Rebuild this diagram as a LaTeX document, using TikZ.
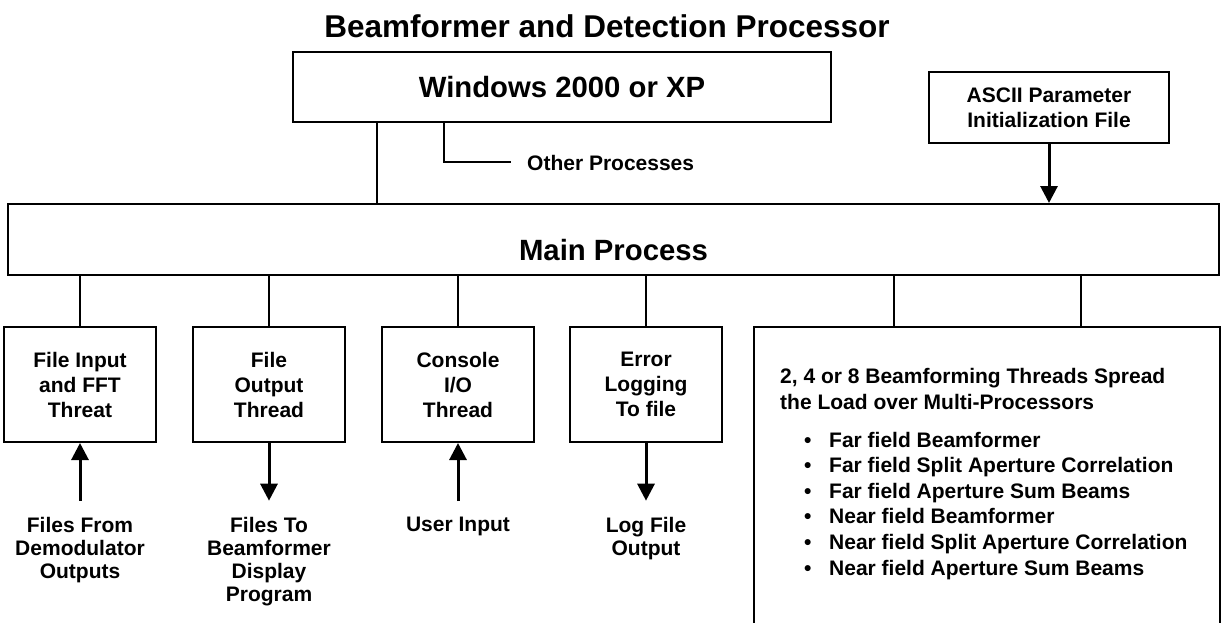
\documentclass[tikz,border=0pt]{standalone}
\usepackage{fontspec}
\setmainfont{Liberation Sans}
\usetikzlibrary{arrows.meta}
\begin{document}
\begin{tikzpicture}[x=1pt,y=-1pt,
  box/.style={draw,line width=2pt,inner sep=0pt,align=center,font=\fontsize{21}{25}\selectfont\bfseries},
  bigbox/.style={draw,line width=2pt,inner sep=0pt,align=center,font=\fontsize{29.3}{34}\selectfont\bfseries},
  link/.style={line width=2pt},
  arr/.style={line width=3pt,-{Triangle[width=17pt,length=17pt]}},
  lbl/.style={inner sep=0pt,align=center,font=\fontsize{21}{23}\selectfont\bfseries},
  txt/.style={inner sep=0pt,font=\fontsize{21}{25}\selectfont\bfseries}]
\useasboundingbox (0,0) rectangle (1225,623);

% title
\node[inner sep=0pt,font=\fontsize{31.5}{36}\selectfont\bfseries,anchor=base] (title) at (607,38) {Beamformer and Detection Processor};

% operating system, parameter file and main process
\node[bigbox,minimum width=538pt,minimum height=70pt] (win) at (562,87) {Windows 2000 or XP};
\node[box,minimum width=240pt,minimum height=71pt] (ascii) at (1049,107.5) {ASCII Parameter\\Initialization File};
\node[bigbox,minimum width=1211pt,minimum height=71pt] (main) at (613.5,239.5) {\raisebox{-20.5pt}[0pt][0pt]{Main Process}};

% worker threads
\node[box,minimum width=152pt,minimum height=115pt] (fin) at (80,384.5) {File Input\\and FFT\\Threat};
\node[box,minimum width=152pt,minimum height=115pt] (fout) at (269,384.5) {File\\Output\\Thread};
\node[box,minimum width=152pt,minimum height=115pt] (con) at (458,384.5) {Console\\I/O\\Thread};
\node[box,minimum width=152pt,minimum height=115pt] (err) at (646,384.5) {Error\\Logging\\To file};

% beamforming threads (box runs off the bottom edge)
\node[draw,line width=2pt,inner sep=0pt,minimum width=466pt,minimum height=310pt] (beam) at (987,482) {};
\node[txt,align=left,anchor=north west,font=\fontsize{21}{26}\selectfont\bfseries] (beamhead) at (780,367.7)
  {2, 4 or 8 Beamforming Threads Spread\\the Load over Multi-Processors};
\node[txt,align=left,anchor=north west,font=\fontsize{21}{25.6}\selectfont\bfseries] (beamlist) at (804,431.7)
  {\makebox[25pt][l]{\textbullet}Far field Beamformer\\
   \makebox[25pt][l]{\textbullet}Far field Split Aperture Correlation\\
   \makebox[25pt][l]{\textbullet}Far field Aperture Sum Beams\\
   \makebox[25pt][l]{\textbullet}Near field Beamformer\\
   \makebox[25pt][l]{\textbullet}Near field Split Aperture Correlation\\
   \makebox[25pt][l]{\textbullet}Near field Aperture Sum Beams};

% data sources and sinks
\node[lbl,anchor=north] (src) at (80,516.7) {Files From\\Demodulator\\Outputs};
\node[lbl,anchor=north] (dst) at (269,516.7) {Files To\\Beamformer\\Display\\Program};
\node[lbl,anchor=north] (usr) at (458,517) {User Input};
\node[lbl,anchor=north] (log) at (646,516.7) {Log File\\Output};

% other processes branch
\node[txt,anchor=base west] (other) at (527,170) {Other Processes};
\coordinate (tap) at (377,0);
\coordinate (side) at (444,0);
\draw[link] (win.south -| tap) -- (main.north -| tap);
\draw[link] (win.south -| side) |- ([xshift=-16pt]other.west);

% main process to threads
\foreach \b in {fin,fout,con,err}
  \draw[link] (main.south -| \b.north) -- (\b.north);
\coordinate (tapA) at (894,0);
\coordinate (tapB) at (1081,0);
\draw[link] (main.south -| tapA) -- (beam.north -| tapA);
\draw[link] (main.south -| tapB) -- (beam.north -| tapB);

% data flow arrows
\draw[arr] (ascii.south) -- (ascii.south |- main.north);
\draw[arr] ([yshift=16pt]src.north) -- (fin.south);
\draw[arr] (fout.south) -- ([yshift=16pt]dst.north);
\draw[arr] ([yshift=16pt]usr.north) -- (con.south);
\draw[arr] (err.south) -- ([yshift=16pt]log.north);
\end{tikzpicture}
\end{document}
